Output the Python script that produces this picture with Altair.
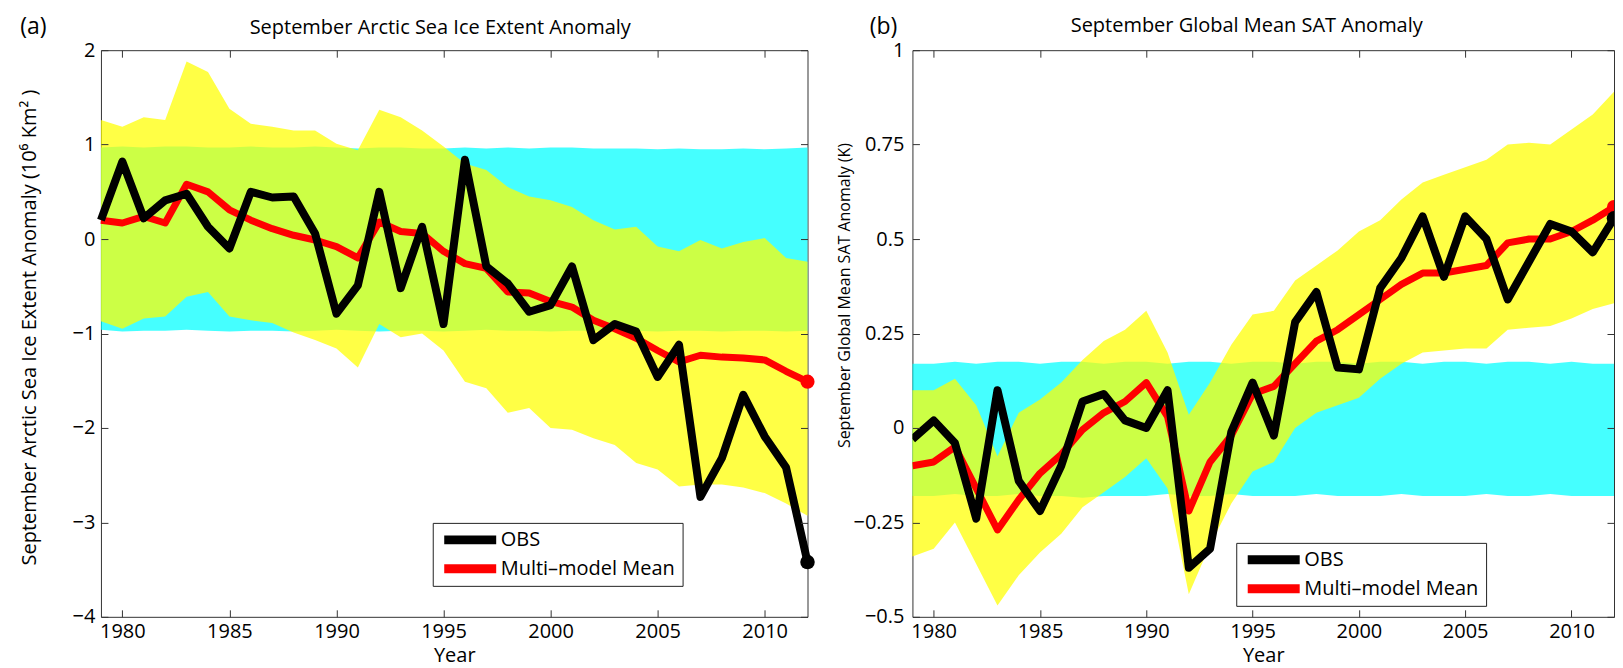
import altair as alt
import pandas as pd

# ---------------------------------------------------------------- data
years = list(range(1979, 2013))

x_ticks = [1980, 1985, 1990, 1995, 2000, 2005, 2010]
a_y_ticks = [-4, -3, -2, -1, 0, 1, 2]
b_y_ticks = [-0.5, -0.25, 0, 0.25, 0.5, 0.75, 1]

series_names = ["OBS", "Multi–model Mean"]
series_colors = ["#000000", "#FF0000"]

# (a) September Arctic sea ice extent anomaly (10^6 km^2)
a_obs = [0.20, 0.82, 0.22, 0.41, 0.48, 0.13, -0.10, 0.50, 0.44, 0.45,
         0.06, -0.79, -0.49, 0.50, -0.52, 0.13, -0.90, 0.84, -0.29, -0.47,
         -0.77, -0.70, -0.29, -1.07, -0.90, -0.98, -1.46, -1.12, -2.73, -2.32,
         -1.65, -2.09, -2.42, -3.42]
a_mean = [0.20, 0.17, 0.24, 0.17, 0.58, 0.50, 0.31, 0.20, 0.11, 0.04,
          -0.01, -0.08, -0.20, 0.18, 0.08, 0.06, -0.13, -0.26, -0.31, -0.56,
          -0.57, -0.66, -0.72, -0.86, -0.95, -1.05, -1.18, -1.30, -1.23, -1.25,
          -1.26, -1.28, -1.40, -1.51]
a_model_hi = [1.26, 1.19, 1.29, 1.26, 1.88, 1.77, 1.38, 1.22, 1.19, 1.15,
              1.15, 1.01, 0.94, 1.37, 1.29, 1.15, 0.98, 0.80, 0.73, 0.55,
              0.45, 0.41, 0.34, 0.20, 0.10, 0.13, -0.08, -0.13, -0.01, -0.10,
              -0.03, 0.01, -0.20, -0.24]
a_model_lo = [-0.87, -0.95, -0.84, -0.82, -0.61, -0.56, -0.82, -0.86, -0.89, -0.99,
              -1.07, -1.16, -1.36, -0.90, -1.04, -1.00, -1.18, -1.51, -1.58, -1.84,
              -1.79, -2.00, -2.02, -2.11, -2.18, -2.37, -2.44, -2.62, -2.60, -2.60,
              -2.63, -2.69, -2.80, -2.93]
a_ctrl_hi = [0.97, 0.98, 0.97, 0.98, 0.98, 0.97, 0.97, 0.98, 0.97, 0.97,
             0.98, 0.97, 0.96, 0.97, 0.97, 0.96, 0.96, 0.97, 0.96, 0.97,
             0.96, 0.97, 0.97, 0.96, 0.96, 0.96, 0.95, 0.96, 0.95, 0.95,
             0.96, 0.95, 0.96, 0.97]
a_ctrl_lo = [-0.96, -0.98, -0.97, -0.97, -0.96, -0.97, -0.98, -0.97, -0.97, -0.98,
             -0.97, -0.96, -0.97, -0.98, -0.97, -0.97, -0.98, -0.97, -0.96, -0.97,
             -0.97, -0.98, -0.97, -0.97, -0.96, -0.97, -0.98, -0.97, -0.97, -0.98,
             -0.97, -0.97, -0.98, -0.97]

# (b) September global mean SAT anomaly (K)
b_obs = [-0.03, 0.02, -0.04, -0.24, 0.10, -0.14, -0.22, -0.10, 0.07, 0.09,
         0.02, 0.00, 0.10, -0.37, -0.32, -0.01, 0.12, -0.02, 0.28, 0.36,
         0.16, 0.155, 0.37, 0.45, 0.56, 0.40, 0.56, 0.50, 0.34, 0.44,
         0.54, 0.52, 0.465, 0.555]
b_mean = [-0.10, -0.09, -0.05, -0.16, -0.27, -0.19, -0.12, -0.07, -0.005, 0.04,
          0.07, 0.12, 0.03, -0.22, -0.09, -0.02, 0.09, 0.11, 0.17, 0.23,
          0.26, 0.30, 0.34, 0.38, 0.41, 0.41, 0.42, 0.43, 0.49, 0.50,
          0.50, 0.52, 0.55, 0.585]
b_model_hi = [0.10, 0.10, 0.13, 0.06, -0.075, 0.04, 0.075, 0.12, 0.18, 0.23,
              0.26, 0.31, 0.20, 0.035, 0.12, 0.22, 0.30, 0.31, 0.39, 0.43,
              0.47, 0.52, 0.55, 0.605, 0.65, 0.67, 0.69, 0.71, 0.75, 0.755,
              0.75, 0.79, 0.83, 0.89]
b_model_lo = [-0.34, -0.32, -0.25, -0.36, -0.47, -0.39, -0.33, -0.28, -0.21, -0.17,
              -0.13, -0.08, -0.16, -0.44, -0.31, -0.20, -0.115, -0.09, 0.0, 0.04,
              0.06, 0.08, 0.13, 0.17, 0.20, 0.205, 0.21, 0.21, 0.26, 0.265,
              0.27, 0.29, 0.315, 0.33]
b_ctrl_hi = [0.17, 0.17, 0.175, 0.17, 0.175, 0.175, 0.17, 0.175, 0.175, 0.17,
             0.175, 0.175, 0.17, 0.175, 0.175, 0.17, 0.175, 0.175, 0.17, 0.175,
             0.175, 0.17, 0.175, 0.175, 0.17, 0.175, 0.175, 0.17, 0.175, 0.175,
             0.17, 0.175, 0.17, 0.17]
b_ctrl_lo = [-0.18, -0.18, -0.175, -0.18, -0.18, -0.175, -0.18, -0.18, -0.185, -0.18,
             -0.18, -0.18, -0.175, -0.18, -0.18, -0.175, -0.18, -0.18, -0.18, -0.175,
             -0.18, -0.18, -0.18, -0.175, -0.18, -0.18, -0.18, -0.175, -0.18, -0.18,
             -0.175, -0.18, -0.18, -0.18]

FONT = "Open Sans"
TICK = "#333333"
PLOT_H = 567


def make_panel(label, label_xy, title, title_size, title_xy, width,
               ytitle, ytitle_size, ytitle_x, ytitle_y, ydomain, yticks, yfmt, ylab_pad,
               obs, mean, mhi, mlo, chi, clo, legend_xy, clip):
    df = pd.DataFrame({"year": years, "obs": obs, "mean": mean,
                       "mhi": mhi, "mlo": mlo, "chi": chi, "clo": clo})
    n = len(years)
    long = pd.DataFrame({"year": years + years,
                         "value": mean + obs,
                         "series": [series_names[1]] * n + [series_names[0]] * n})
    end = pd.DataFrame({"year": [years[-1]], "obs": [obs[-1]], "mean": [mean[-1]]})

    xs = alt.Scale(domain=[1979, 2012], nice=False, zero=False)
    ys = alt.Scale(domain=ydomain, nice=False, zero=False)

    ax_bottom = alt.Axis(orient="bottom", values=x_ticks, format="d", offset=-7, tickSize=7,
                         domain=False, grid=False, labelPadding=4.5, labelFontSize=20,
                         labelFont=FONT, labelColor="black", tickColor=TICK, tickWidth=1,
                         title="Year", titleFontSize=20, titleFont=FONT, titleFontWeight="normal",
                         titleColor="black", titleY=52, titleBaseline="alphabetic", zindex=1)
    # top axis: inward ticks, carries the panel title
    ax_top = alt.Axis(orient="top", values=x_ticks, offset=-7, tickSize=7, domain=False,
                      grid=False, labels=False, tickColor=TICK, tickWidth=1, zindex=1,
                      title=title, titleFontSize=title_size, titleFont=FONT,
                      titleFontWeight="normal", titleColor="black", titleAngle=0,
                      titleAlign="center", titleBaseline="alphabetic",
                      titleX=title_xy[0], titleY=title_xy[1])
    ax_left = alt.Axis(orient="left", values=yticks, format=yfmt, offset=-7, tickSize=7,
                       domain=False, grid=False, labelPadding=ylab_pad, labelFontSize=20,
                       labelFont=FONT, labelColor="black", tickColor=TICK, tickWidth=1,
                       title=ytitle, titleFontSize=ytitle_size, titleFont=FONT,
                       titleFontWeight="normal", titleColor="black", titleAngle=270,
                       titleX=ytitle_x, titleY=ytitle_y, titleBaseline="middle",
                       titleAlign="center", zindex=1)
    ax_right = alt.Axis(orient="right", values=yticks, offset=-7, tickSize=7, domain=False,
                        grid=False, labels=False, tickColor=TICK, tickWidth=1, title=None, zindex=1)

    legend = alt.Legend(orient="none", legendX=legend_xy[0], legendY=legend_xy[1], title=None,
                        fillColor="white", strokeColor="#222222", padding=7, cornerRadius=0,
                        symbolType="stroke", symbolSize=2704, symbolStrokeWidth=9,
                        symbolOffset=0, labelFontSize=20, labelFont=FONT, labelColor="black",
                        labelOffset=0, clipHeight=20, rowPadding=9, labelLimit=400)
    cscale = alt.Scale(domain=series_names, range=series_colors)

    cyan = alt.Chart(df).mark_area(color="#00FFFF", opacity=0.73).encode(
        x=alt.X("year:Q", scale=xs, axis=ax_bottom),
        y=alt.Y("clo:Q", scale=ys, axis=ax_left),
        y2="chi:Q")
    yellow = alt.Chart(df).mark_area(color="#FFFF00", opacity=0.73).encode(
        x=alt.X("year:Q", scale=xs, axis=ax_top),
        y=alt.Y("mlo:Q", scale=ys, axis=ax_right),
        y2="mhi:Q")
    red_line = alt.Chart(long).transform_filter(
        alt.datum.series == series_names[1]
    ).mark_line(strokeWidth=7, strokeJoin="round", clip=clip).encode(
        x=alt.X("year:Q", scale=xs, axis=None),
        y=alt.Y("value:Q", scale=ys, axis=None),
        color=alt.Color("series:N", scale=cscale, legend=legend))
    black_line = alt.Chart(long).transform_filter(
        alt.datum.series == series_names[0]
    ).mark_line(strokeWidth=8, strokeJoin="round", clip=clip).encode(
        x=alt.X("year:Q", scale=xs, axis=None),
        y=alt.Y("value:Q", scale=ys, axis=None),
        color=alt.Color("series:N", scale=cscale, legend=legend))
    red_dot = alt.Chart(end).mark_circle(color="#FF0000", size=200, opacity=1, clip=clip).encode(
        x=alt.X("year:Q", scale=xs, axis=None),
        y=alt.Y("mean:Q", scale=ys, axis=None))
    black_dot = alt.Chart(end).mark_circle(color="#000000", size=210, opacity=1, clip=clip).encode(
        x=alt.X("year:Q", scale=xs, axis=None),
        y=alt.Y("obs:Q", scale=ys, axis=None))
    tag = alt.Chart(pd.DataFrame({"label": [label]})).mark_text(
        fontSize=23, font=FONT, align="center", baseline="middle", color="black"
    ).encode(text="label:N", x=alt.value(label_xy[0]), y=alt.value(label_xy[1]))

    return alt.layer(cyan, yellow, red_line, red_dot, black_line, black_dot, tag).resolve_axis(
        x="independent", y="independent"
    ).properties(width=width, height=PLOT_H)


panel_a = make_panel(
    "(a)", (-67.5, -23), "September Arctic Sea Ice Extent Anomaly", 20, (339, -24), 707,
    "September Arctic Sea Ice Extent Anomaly (10⁶ Km² )", 20, -78, 277,
    [-4, 2], a_y_ticks, "d", 6,
    a_obs, a_mean, a_model_hi, a_model_lo, a_ctrl_hi, a_ctrl_lo, (332, 473), False)

panel_b = make_panel(
    "(b)", (-29, -23), "September Global Mean SAT Anomaly", 20, (334, -26), 702,
    "September Global Mean SAT Anomaly (K)", 16, -75, 245,
    [-0.5, 1], b_y_ticks, ".2~f", 8.5,
    b_obs, b_mean, b_model_hi, b_model_lo, b_ctrl_hi, b_ctrl_lo, (324, 493), True)

chart = alt.hconcat(panel_a, panel_b, spacing=105, bounds="flush").resolve_scale(
    x="independent", y="independent", color="independent"
).resolve_legend(color="independent").properties(
    padding={"left": 11, "top": 6, "right": 0, "bottom": 0}
).configure(font=FONT).configure_view(stroke="#333333", strokeWidth=1)

chart.save("out.html", embed_options={"renderer": "svg", "actions": False})
